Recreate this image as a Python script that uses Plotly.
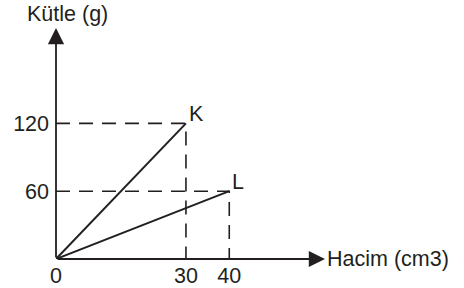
import plotly.graph_objects as go

# data
labels = ["K", "L"]
volumes = [30, 40]        # cm3
masses = [120, 60]        # g
x_ticks = [0, 30, 40]
x_ticktext = ["0", "30", "40"]
y_ticks = [60, 120]
y_ticktext = ["60", "120"]
x_title = "Hacim (cm3)"
y_title = "Kütle (g)"

INK = "#231f20"
FONT = dict(family="Liberation Sans, Arial, sans-serif", size=21.5, color=INK)
XMAX = 62.1
YMAX = 204.4

fig = go.Figure()

# dashed guide lines
for v, m in zip(volumes, masses):
    fig.add_trace(go.Scatter(x=[0, v, v], y=[m, m, 0], mode="lines",
                             line=dict(color=INK, width=1.6, dash="14px,9px"),
                             hoverinfo="skip", showlegend=False))
# solid lines from origin
for v, m in zip(volumes, masses):
    fig.add_trace(go.Scatter(x=[0, v], y=[0, m], mode="lines",
                             line=dict(color=INK, width=2),
                             hoverinfo="skip", showlegend=False))

# point labels
for lab, v, m in zip(labels, volumes, masses):
    fig.add_annotation(x=v, y=m, text=lab, showarrow=False, xanchor="left", yanchor="bottom",
                       xshift=1, yshift=-5, font=FONT)

# axis arrows
fig.add_annotation(x=XMAX, y=0, ax=0, ay=0, axref="x", ayref="y", xref="x", yref="y",
                   text="", showarrow=True, arrowhead=2, arrowsize=1.8, arrowwidth=1.8,
                   arrowcolor=INK, standoff=0, startstandoff=0)
fig.add_annotation(x=0, y=YMAX, ax=0, ay=0, axref="x", ayref="y", xref="x", yref="y",
                   text="", showarrow=True, arrowhead=2, arrowsize=1.8, arrowwidth=1.8,
                   arrowcolor=INK, standoff=0, startstandoff=0)

# axis titles
fig.add_annotation(x=XMAX, y=0, xref="x", yref="y", text=x_title, showarrow=False,
                   xanchor="left", yanchor="middle", xshift=0, font=FONT)
fig.add_annotation(x=0, y=YMAX, xref="x", yref="y", text=y_title, showarrow=False,
                   xanchor="center", yanchor="bottom", xshift=11, yshift=0, font=FONT)

fig.update_xaxes(range=[0, XMAX], tickvals=x_ticks, ticktext=x_ticktext, showgrid=False,
                 zeroline=False, showline=False, ticks="", tickfont=FONT,
                 automargin=False, ticklabelstandoff=1)
fig.update_yaxes(range=[0, YMAX], tickvals=y_ticks, ticktext=y_ticktext, showgrid=False,
                 zeroline=False, showline=False, ticks="", tickfont=FONT, ticklabelstandoff=6,
                 automargin=False)

fig.update_layout(width=464, height=288, margin=dict(l=56, r=139, t=28, b=29),
                  plot_bgcolor="white", paper_bgcolor="white", showlegend=False)

fig.write_html("out.html", config={"displayModeBar": False},
               post_script="document.body.style.margin='0';document.body.style.overflow='hidden';")
